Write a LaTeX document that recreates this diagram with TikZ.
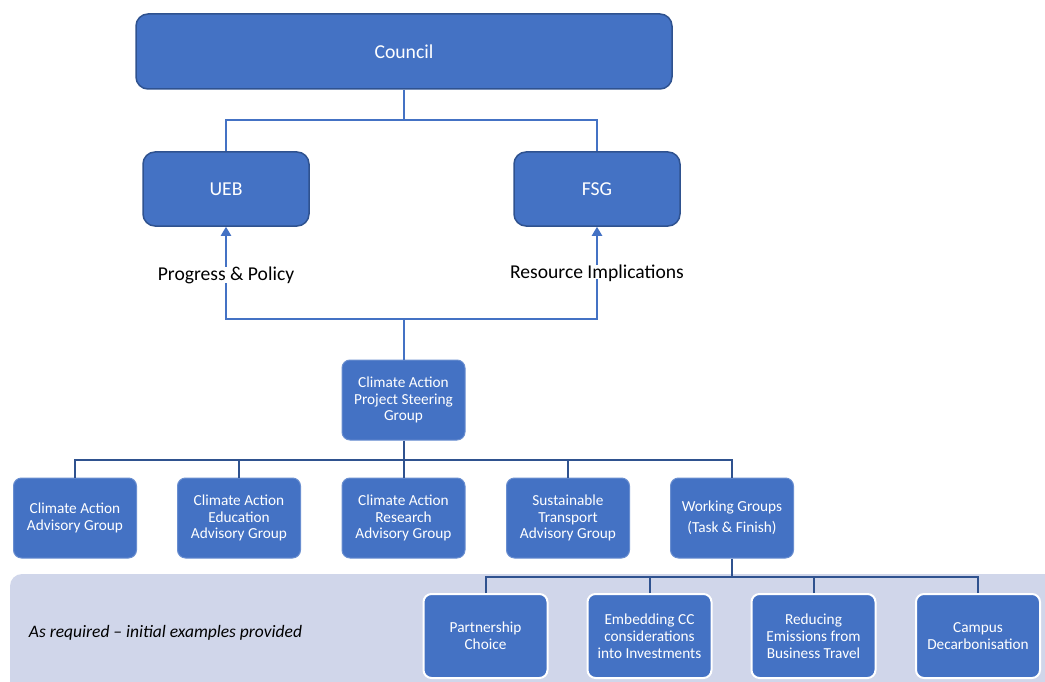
\documentclass[tikz,border=0pt]{standalone}
\usepackage{fontspec}
\setmainfont{Carlito}
\usetikzlibrary{arrows.meta}
\definecolor{boxblue}{HTML}{4472C4}
\definecolor{darkblue}{HTML}{2F528F}
\definecolor{bandgrey}{HTML}{D0D6EA}

\begin{document}
\begin{tikzpicture}[x=1pt,y=-1pt,
    topbox/.style={draw=darkblue, line width=1.5pt, fill=boxblue, rounded corners=12pt, text=white, align=center, font=\fontsize{19.7}{23}\selectfont},
    groupbox/.style={draw=boxblue!80!white, line width=1pt, fill=boxblue, rounded corners=8pt, text=white, align=center, minimum width=123pt, minimum height=80pt, inner sep=1pt, font=\fontsize{15.3}{16.8}\selectfont},
    taskbox/.style={draw=white, line width=2pt, fill=boxblue, rounded corners=8pt, text=white, align=center, minimum width=124pt, minimum height=84pt, inner sep=1pt, font=\fontsize{15.3}{16.8}\selectfont},
    upline/.style={draw=boxblue, line width=2pt},
    downline/.style={draw=darkblue, line width=2pt},
    label/.style={font=\fontsize{19.6}{23}\selectfont}]
    \useasboundingbox (0,0) rectangle (1045,682);

    \fill[bandgrey, rounded corners=12pt] (1070,574) -- (10,574) -- (10,700) -- (1070,700) -- cycle;
    \node[font=\fontsize{17.5}{20}\itshape] (note) at (165.5,633) {As required -- initial examples provided};

    \node[topbox, minimum width=536pt, minimum height=75pt] (council) at (404,51.5) {Council};
    \node[topbox, minimum width=166pt, minimum height=74pt] (ueb) at (226,189) {UEB};
    \node[topbox, minimum width=166pt, minimum height=74pt] (fsg) at (597,189) {FSG};

    \node[label] (policy) at (226,275) {Progress \& Policy};
    \node[label] (resource) at (597,273) {Resource Implications};

    \node[groupbox] (steering) at (403.5,400) {Climate Action\\Project Steering\\Group};

    \node[groupbox] (advisory) at (75,518) {Climate Action\\Advisory Group};
    \node[groupbox] (education) at (239,518) {Climate Action\\Education\\Advisory Group};
    \node[groupbox] (research) at (403.5,518) {Climate Action\\Research\\Advisory Group};
    \node[groupbox] (transport) at (568,518) {Sustainable\\Transport\\Advisory Group};
    \node[groupbox] (working) at (732,518) {Working Groups\\[4pt](Task \& Finish)};

    \node[taskbox] (partner) at (485.5,636) {Partnership\\Choice};
    \node[taskbox] (invest) at (649.5,636) {Embedding CC\\considerations\\into Investments};
    \node[taskbox] (travel) at (813.5,636) {Reducing\\Emissions from\\Business Travel};
    \node[taskbox] (campus) at (978,636) {Campus\\Decarbonisation};

    \coordinate (split) at (404,120);
    \draw[upline] (council.south) -- (split);
    \draw[upline] (ueb.north) |- (split) -| (fsg.north);

    \draw[upline, -{Triangle[length=9pt, width=10pt]}] ([yshift=-4pt]policy.north) -- (ueb.south);
    \draw[upline, -{Triangle[length=9pt, width=10pt]}] ([yshift=-4pt]resource.north) -- (fsg.south);

    \coordinate (join) at (403.5,319);
    \draw[upline] ([yshift=4pt]policy.south) |- (join) -| ([yshift=6pt]resource.south);
    \draw[upline] (join) -- (steering.north);

    \coordinate (row) at (403.5,460);
    \draw[downline] (steering.south) -- (row);
    \foreach \g in {advisory,education,research,transport,working}
        \draw[downline] (\g.north) |- (row);

    \coordinate (tasks) at (732,577);
    \draw[downline] (working.south) -- (tasks);
    \foreach \t in {partner,invest,travel,campus}
        \draw[downline] (\t.north) |- (tasks);

\end{tikzpicture}
\end{document}
